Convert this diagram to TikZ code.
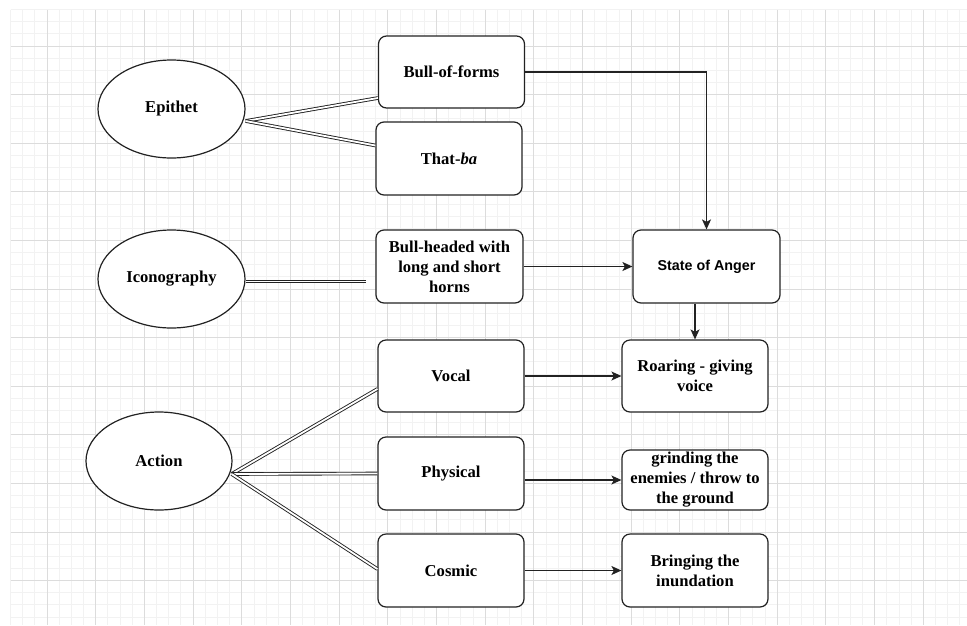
\documentclass[tikz,border=0pt]{standalone}
\usepackage{fontspec}
\setmainfont{Liberation Serif}
\setsansfont{Liberation Sans}
\usetikzlibrary{arrows.meta,shapes.geometric}
\definecolor{gridminor}{HTML}{F2F2F2}
\definecolor{gridmajor}{HTML}{DCDCDC}
\definecolor{edge}{HTML}{222222}
\begin{document}
\begin{tikzpicture}[x=1pt,y=-1pt,
  box/.style={draw=edge,line width=1.2pt,rounded corners=8pt,fill=white,
    minimum width=146pt,minimum height=72pt,inner sep=2pt,align=center,
    font=\bfseries\fontsize{16.6}{20}\selectfont},
  oval/.style={draw=edge,line width=1.2pt,ellipse,fill=white,
    minimum width=147pt,minimum height=98pt,inner sep=0pt,
    font=\bfseries\fontsize{16.6}{20}\selectfont},
  dbl/.style={draw=edge,line width=0.9pt,double=white,double distance=1.8pt},
  arr/.style={draw=edge,line width=1.3pt,-{Stealth[length=10pt,width=9pt,inset=2.5pt]}}]
\useasboundingbox (0,0) rectangle (967,625);
\fill[white] (0,0) rectangle (967,625);
\foreach \i in {0,...,78} {\draw[gridminor,line width=0.8pt] ({10.5+12.17*\i},9.5) -- ({10.5+12.17*\i},625);}
\foreach \j in {0,...,50} {\draw[gridminor,line width=0.8pt] (10.5,{9.5+12.15*\j}) -- (967,{9.5+12.15*\j});}
\foreach \i in {3,7,...,78} {\draw[gridmajor,line width=0.8pt] ({10.5+12.17*\i},9.5) -- ({10.5+12.17*\i},625);}
\foreach \j in {3,7,...,50} {\draw[gridmajor,line width=0.8pt] (10.5,{9.5+12.15*\j}) -- (967,{9.5+12.15*\j});}

% ellipses
\node[oval] (ep) at (171.5,109) {Epithet};
\node[oval] (ic) at (171.5,279) {Iconography};
\node[oval,minimum width=146pt] (ac) at (159,461) {Action};

% boxes
\node[box] (bof) at (451.5,72) {Bull-of-forms};
\node[box,minimum height=73pt] (tb) at (449,158.5) {That-\textit{ba}};
\node[box,minimum height=73pt,minimum width=147pt] (bh) at (449.5,266.5) {Bull-headed with\\long and short\\horns};
\node[box,minimum height=73pt,minimum width=147pt,font=\sffamily\bfseries\fontsize{14.3}{16}\selectfont] (an) at (706.5,266.5) {State of Anger};
\node[box] (ro) at (695,376) {Roaring - giving\\voice};
\node[box] (vo) at (451,376) {Vocal};
\node[box,minimum height=73pt] (ph) at (451,473.5) {Physical};
\node[box,minimum height=60pt,inner sep=1pt] (gr) at (695,480) {grinding the\\enemies / throw to\\the ground};
\node[box,minimum height=73pt] (co) at (451,570.5) {Cosmic};
\node[box,minimum height=73pt] (br) at (695,570.5) {Bringing the\\inundation};

% double connectors
\coordinate (icend) at (366,281.5);
\draw[dbl] ([yshift=-12pt]ep.east) -- ([yshift=-26pt]bof.west);
\draw[dbl] ([yshift=-12pt]ep.east) -- ([yshift=13pt]tb.west);
\draw[dbl] ([yshift=-2.5pt]ic.east) -- (icend);
\draw[dbl] ([xshift=-1pt,yshift=-13pt]ac.east) -- ([yshift=-13pt]vo.west);
\draw[dbl] ([xshift=-1pt,yshift=-13pt]ac.east) -- (ph.west);
\draw[dbl] ([xshift=-1pt,yshift=-13pt]ac.east) -- ([yshift=1.5pt]co.west);

% arrows
\draw[arr] (bof.east) -| (an.north);
\draw[arr] (bh.east) -- (an.west);
\draw[arr] (an.south -| ro.north) -- (ro.north);
\draw[arr] (vo.east) -- (ro.west);
\draw[arr] (ph.east |- gr.west) -- (gr.west);
\draw[arr] (co.east) -- (br.west);
\end{tikzpicture}
\end{document}
